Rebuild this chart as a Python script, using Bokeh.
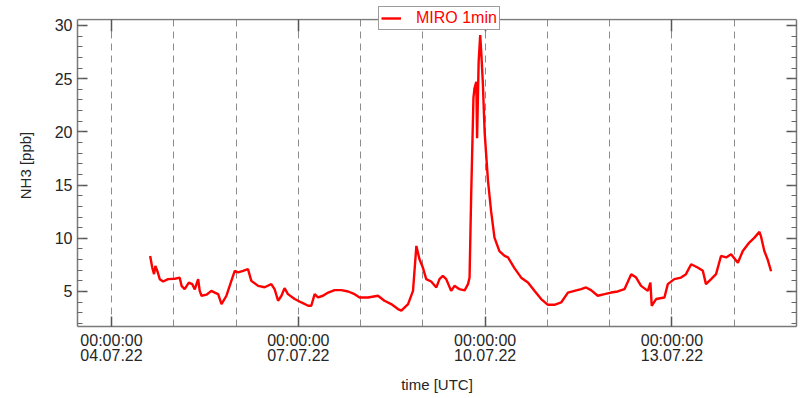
import pandas as pd
from bokeh.plotting import figure
from bokeh.models import (Range1d, DaysTicker, SingleIntervalTicker, DatetimeTickFormatter,
                          CustomJSTickFormatter, DatetimeAxis, LinearAxis, Legend, LegendItem,
                          BoxAnnotation)
from bokeh.embed import file_html
from bokeh.resources import INLINE

# NH3 mixing ratio measured by MIRO, hours since 04.07.22 00:00 UTC
base_time = "2022-07-04 00:00:00"
hours = [14.9, 15.7, 16.4, 16.9, 17.7, 18.6, 19.9, 21.8, 24.4, 26.3, 27.0, 28.2, 29.8, 31.1,
         32.1, 33.4, 34.0, 34.7, 36.6, 38.5, 39.8, 41.1, 42.4, 44.3, 46.2, 47.5, 48.8, 50.7,
         52.6, 53.9, 56.5, 59.0, 61.6, 62.9, 64.2, 65.5, 66.7, 68.0, 70.6, 73.2, 75.8, 77.0,
         78.3, 79.6, 81.5, 83.5, 86.0, 88.6, 91.2, 93.7, 95.6, 98.9, 102.7, 105.2, 107.8,
         110.4, 111.7, 114.3, 116.2, 117.5, 118.7, 120.0, 121.3, 123.2, 125.2, 126.4, 127.7,
         129.0, 130.9, 132.2, 134.1, 136.1, 137.4, 138.0, 138.6, 139.5, 139.9, 140.6, 140.9,
         141.5, 142.1, 142.5, 143.1, 143.8, 145.1, 146.3, 147.6, 149.5, 151.5, 152.8, 155.3,
         157.9, 160.5, 163.0, 165.6, 168.2, 170.7, 173.3, 175.9, 178.4, 181.0, 182.9, 184.8,
         187.4, 190.0, 192.5, 195.1, 197.7, 200.3, 202.2, 204.1, 206.7, 207.7, 208.2, 209.9,
         213.1, 214.4, 216.9, 219.5, 221.4, 223.4, 225.9, 227.9, 229.1, 231.1, 233.0, 234.9,
         236.9, 238.8, 241.4, 243.3, 245.8, 247.8, 249.7, 250.3, 251.6, 252.9, 254.2]
nh3_ppb = [8.34, 7.25, 6.63, 7.4, 6.9, 6.16, 5.94, 6.16, 6.2, 6.3, 5.53, 5.22, 5.84, 5.7,
           5.2, 6.16, 5.06, 4.6, 4.7, 5.06, 4.9, 4.75, 3.82, 4.6, 6.0, 6.94, 6.8, 6.94,
           7.1, 6.0, 5.53, 5.4, 5.7, 5.2, 4.13, 4.6, 5.32, 4.75, 4.29, 3.97, 3.66, 3.66,
           4.75, 4.44, 4.6, 4.9, 5.13, 5.13, 5.0, 4.75, 4.44, 4.44, 4.6, 4.13, 3.82,
           3.35, 3.2, 3.82, 5.06, 9.28, 8.03, 7.25, 6.16, 5.94, 5.38, 6.16, 6.47,
           6.16, 5.06, 5.53, 5.22, 5.1, 5.69, 6.31, 13.8, 23.2, 24.1, 24.7, 19.4,
           26.6, 29.1, 27.5, 24.7, 20.0, 15.4, 12.55, 10.06, 8.8, 8.34, 8.2, 7.2,
           6.3, 5.84, 5.06, 4.29, 3.75, 3.75, 3.97, 4.9, 5.06, 5.22, 5.38, 5.13,
           4.6, 4.75, 4.9, 5.0, 5.22, 6.63, 6.31, 5.53, 5.06, 5.84, 3.66, 4.29,
           4.44, 5.69, 6.16, 6.31, 6.63, 7.56, 7.25, 6.94, 5.69, 6.16, 6.63, 8.34,
           8.2, 8.5, 7.7, 8.8, 9.6, 10.06, 10.6, 10.2, 8.8, 8.0, 6.9]
label_days = [4, 7, 10, 13]

# value axis extent: the box spans y_lo..y_hi, a little headroom above holds the legend
y_lo, y_hi, y_headroom = 1.71, 30.56, 31.97

t0 = pd.Timestamp(base_time)
times = [t0 + pd.Timedelta(hours=h) for h in hours]

x_start = t0 - pd.Timedelta(hours=13.1)
x_end = pd.Timestamp("2022-07-15 00:00:00")

AXIS_GREY = "#7a7a7a"
TEXT = "#262626"
FONT = "Liberation Sans"

p = figure(width=800, height=398, x_axis_type="datetime", output_backend="svg",
           toolbar_location=None, x_range=Range1d(x_start, x_end),
           y_range=Range1d(y_lo, y_headroom),
           min_border_left=77, min_border_right=4, min_border_top=4, min_border_bottom=72)
p.background_fill_color = "white"
p.border_fill_color = "white"
p.outline_line_color = None

line = p.line(times, nh3_ppb, line_color="#ff0000", line_width=2.4)

# time axes (bottom labelled, top mirrored at the upper edge of the box)
fmt = "%H:%M:%S\n%d.%m.%y"
xfmt = DatetimeTickFormatter(days=fmt, months=fmt, hours=fmt, hourmin=fmt,
                             minutes=fmt, minsec=fmt, seconds=fmt, years=fmt)
xa = p.xaxis[0]
xa.ticker = DaysTicker(days=label_days)
xa.formatter = xfmt
xa.axis_label = "time [UTC]"
xa.major_label_text_line_height = 0.9
xa.major_label_standoff = 5
xa.axis_label_standoff = 9

top = DatetimeAxis(ticker=DaysTicker(days=label_days),
                   formatter=CustomJSTickFormatter(code="return ''"),
                   fixed_location=y_hi)
p.add_layout(top, "above")

# value axes (left labelled, right mirrored)
ya = p.yaxis[0]
ya.ticker = SingleIntervalTicker(interval=5, num_minor_ticks=5)
ya.axis_label = "NH3 [ppb]"
ya.major_label_standoff = 5
ya.axis_label_standoff = 18
ya.bounds = (y_lo, y_hi)
right = LinearAxis(ticker=SingleIntervalTicker(interval=5, num_minor_ticks=5),
                   formatter=CustomJSTickFormatter(code="return ''"),
                   bounds=(y_lo, y_hi))
p.add_layout(right, "right")

for ax in [xa, top, ya, right]:
    ax.axis_line_color = AXIS_GREY
    ax.axis_line_width = 1.5
    ax.major_tick_line_color = "#555555"
    ax.major_tick_line_width = 1.5
    ax.minor_tick_line_color = "#666666"
    ax.major_tick_in = 10
    ax.major_tick_out = 0
    ax.minor_tick_in = 5
    ax.minor_tick_out = 0
    ax.major_label_text_font = FONT
    ax.major_label_text_font_size = "16px"
    ax.major_label_text_color = TEXT
    ax.axis_label_text_font = FONT
    ax.axis_label_text_font_size = "15px"
    ax.axis_label_text_font_style = "normal"
    ax.axis_label_text_color = TEXT

for ax in [xa, top]:
    ax.minor_tick_line_color = None
top.major_tick_in = 12
top.major_label_standoff = 0
right.major_label_standoff = 0

# daily dashed grid lines, no horizontal grid
p.xgrid.ticker = DaysTicker(days=list(range(1, 32)))
p.xgrid.grid_line_color = "#8c8c8c"
p.xgrid.grid_line_dash = "7 5"
p.xgrid.grid_line_width = 1
p.ygrid.grid_line_color = None

# blank strip above the box, where the legend sits
p.add_layout(BoxAnnotation(bottom=y_hi + 0.1, fill_color="white", fill_alpha=1.0,
                           line_color=None))

legend = Legend(items=[LegendItem(label="MIRO 1min", renderers=[line])],
                location=(301, 296), orientation="horizontal",
                label_text_font=FONT, label_text_font_size="16px",
                label_text_line_height=0.7,
                label_text_color="#ff0000", glyph_width=20, glyph_height=12,
                label_height=12, label_standoff=15, padding=2, margin=0,
                border_line_color="#3a3a3a", border_line_width=1,
                background_fill_color="white", background_fill_alpha=1.0)
p.add_layout(legend, "center")

open("out.html", "w").write(file_html(p, INLINE))
